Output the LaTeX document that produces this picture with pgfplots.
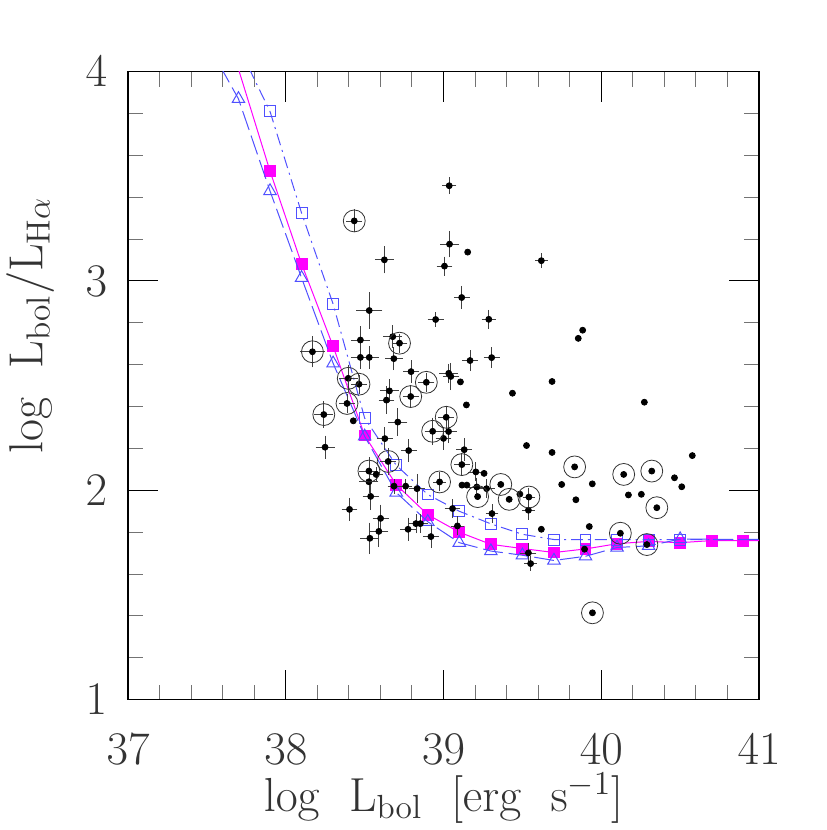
\RequirePackage{fix-cm}
\documentclass[border=0pt]{standalone}
\usepackage{pgfplots}
\usepackage{pgfplotstable}
\pgfplotsset{compat=1.18}
\definecolor{modelblue}{RGB}{80,80,255}
\definecolor{mag}{RGB}{255,0,255}

% points with error bars
\pgfplotstableread{
x y ex ey
39.036 3.455 0.025 0.025
39.038 3.176 0.04 0.048
38.625 3.101 0.04 0.05
39.006 3.071 0.03 0.03
39.620 3.097 0.02 0.02
39.115 2.921 0.03 0.04
38.529 2.859 0.063 0.071
38.950 2.816 0.03 0.02
39.287 2.817 0.025 0.03
38.473 2.718 0.04 0.05
38.473 2.635 0.04 0.04
38.529 2.635 0.04 0.04
38.678 2.734 0.04 0.04
38.685 2.629 0.035 0.04
39.168 2.620 0.03 0.035
39.305 2.634 0.03 0.035
38.794 2.567 0.03 0.04
39.033 2.559 0.04 0.03
39.046 2.544 0.03 0.05
38.657 2.475 0.04 0.04
38.638 2.431 0.03 0.05
38.710 2.326 0.04 0.05
39.032 2.281 0.03 0.04
39.000 2.248 0.03 0.04
39.131 2.194 0.03 0.04
38.249 2.206 0.04 0.04
38.628 2.247 0.03 0.04
38.779 2.190 0.03 0.04
38.527 2.041 0.04 0.04
38.538 1.971 0.03 0.05
38.573 2.076 0.02 0.02
38.686 2.020 0.02 0.02
38.760 2.020 0.02 0.02
38.832 2.008 0.03 0.055
39.205 2.088 0.03 0.03
39.211 2.016 0.03 0.03
39.273 2.008 0.03 0.03
39.538 1.905 0.02 0.03
39.057 1.913 0.03 0.03
39.307 1.889 0.02 0.03
38.404 1.909 0.03 0.04
38.601 1.866 0.03 0.05
38.590 1.804 0.04 0.06
38.533 1.771 0.04 0.06
38.775 1.814 0.03 0.04
38.825 1.841 0.03 0.03
38.853 1.841 0.03 0.03
38.920 1.779 0.03 0.04
39.088 1.830 0.02 0.03
39.538 1.701 0.03 0.03
39.552 1.650 0.02 0.02
38.434 3.287 0.03 0.04
38.169 2.662 0.06 0.06
38.721 2.703 0.03 0.03
38.891 2.516 0.03 0.03
38.396 2.535 0.04 0.05
38.464 2.507 0.03 0.03
38.792 2.448 0.03 0.04
38.388 2.415 0.03 0.03
38.241 2.362 0.04 0.05
39.017 2.349 0.03 0.04
38.931 2.282 0.03 0.05
39.116 2.123 0.03 0.04
38.649 2.138 0.03 0.05
38.527 2.092 0.04 0.05
38.975 2.040 0.02 0.03
39.541 1.968 0.02 0.03
}\errpts

% points without error bars
\pgfplotstableread{
x y
39.153 3.138
39.882 2.765
39.854 2.726
39.688 2.520
39.437 2.464
39.145 2.408
39.107 2.518
38.428 2.332
40.273 2.421
39.526 2.214
39.688 2.181
40.577 2.166
39.749 2.028
39.943 2.031
40.464 2.060
40.510 2.017
39.839 1.955
40.172 1.978
40.254 1.981
39.484 1.982
39.117 2.025
39.148 2.025
39.257 2.081
39.620 1.814
39.924 1.827
39.894 1.719
39.831 2.112
39.216 1.970
39.363 2.028
39.416 1.957
40.142 2.076
40.320 2.092
40.352 1.917
40.121 1.795
40.289 1.741
39.944 1.415
}\plainpts

% circled objects
\pgfplotstableread{
x y
38.434 3.287
38.169 2.662
38.721 2.703
38.891 2.516
38.396 2.535
38.464 2.507
38.792 2.448
38.388 2.415
38.241 2.362
39.017 2.349
38.931 2.282
39.116 2.123
38.649 2.138
38.527 2.092
38.975 2.040
39.541 1.968
39.831 2.112
39.216 1.970
39.363 2.028
39.416 1.957
40.142 2.076
40.320 2.092
40.352 1.917
40.121 1.795
40.289 1.741
39.944 1.415
}\circpts

\begin{document}
\begin{tikzpicture}
\begin{axis}[
    name=ax,
    scale only axis,
    width=317pt, height=315.5pt,
    xmin=37, xmax=41, ymin=1, ymax=4,
    xtick={37,38,39,40,41}, ytick={1,2,3,4},
    minor x tick num=4, minor y tick num=4,
    tick align=inside, tick pos=both,
    major tick length=15pt, minor tick length=7.5pt,
    major tick style={black, line width=0.5pt},
    minor tick style={black!55, line width=0.5pt},
    axis line style={black, line width=0.6pt},
    ticklabel style={font=\fontsize{23.5}{28}\selectfont, black!80},
    xticklabel style={yshift=-14pt},
    yticklabel style={xshift=-7pt},
    label style={font=\fontsize{24}{28}\selectfont, black!80},
    xlabel={$\mathrm{log\ \ L_{bol}\ \ [erg\ \ s^{-1}]}$},
    ylabel={$\mathrm{log\ \ L_{bol}/L_{H\alpha}}$},
    xlabel style={at={(axis description cs:0.5,-0.178)}, anchor=base},
    ylabel style={at={(axis description cs:-0.1356,0.596)}, anchor=base},
    clip marker paths=true,
]
% models
\addplot[mag, line width=0.5pt, mark=square*, mark size=2.75pt,
    mark options={solid, fill=mag, draw=mag}] coordinates {
(37.5,4.5) (37.9,3.525) (38.1,3.082) (38.3,2.688) (38.5,2.262) (38.7,2.027)
(38.9,1.884) (39.1,1.800) (39.3,1.742) (39.5,1.722) (39.7,1.703) (39.9,1.720)
(40.1,1.745) (40.3,1.756) (40.5,1.750) (40.7,1.760) (40.9,1.760) (41.1,1.760)};
\addplot[modelblue, line width=0.5pt, dash pattern=on 10pt off 3pt,
    mark=triangle, mark size=3.6pt, mark options={solid}] coordinates {
(37.5,4.14) (37.7,3.87) (37.9,3.43) (38.1,3.015) (38.3,2.607) (38.5,2.258)
(38.7,1.99) (38.9,1.85) (39.1,1.75) (39.3,1.71) (39.5,1.69) (39.7,1.665)
(39.9,1.685) (40.1,1.727) (40.3,1.735) (40.5,1.767) (41.1,1.765)};
\addplot[modelblue, line width=0.5pt, dash pattern=on 6pt off 2.5pt on 1pt off 2.5pt,
    mark=square, mark size=2.75pt, mark options={solid}] coordinates {
(37.7,4.12) (37.9,3.81) (38.1,3.325) (38.3,2.89) (38.5,2.345) (38.7,2.12)
(38.9,1.98) (39.1,1.90) (39.3,1.84) (39.5,1.79) (39.7,1.765) (39.9,1.765)
(40.1,1.765) (40.3,1.765) (40.5,1.765) (41.1,1.765)};
% data
\addplot[only marks, mark=*, mark size=1.5pt, black,
    error bars/.cd, x dir=both, x explicit, y dir=both, y explicit,
    error bar style={black!75, line width=0.4pt},
    error mark options={black!75, mark size=1.6pt, line width=0.4pt}]
    table[x=x, y=y, x error=ex, y error=ey] {\errpts};
\addplot[only marks, mark=*, mark size=1.5pt, black] table[x=x, y=y] {\plainpts};
\addplot[only marks, mark=o, mark size=5.5pt, black!80, line width=0.4pt] table[x=x, y=y] {\circpts};
\end{axis}
\path ([shift={(-64pt,-63.5pt)}]ax.south west) rectangle ([shift={(34pt,36pt)}]ax.north east);
\end{tikzpicture}
\end{document}
